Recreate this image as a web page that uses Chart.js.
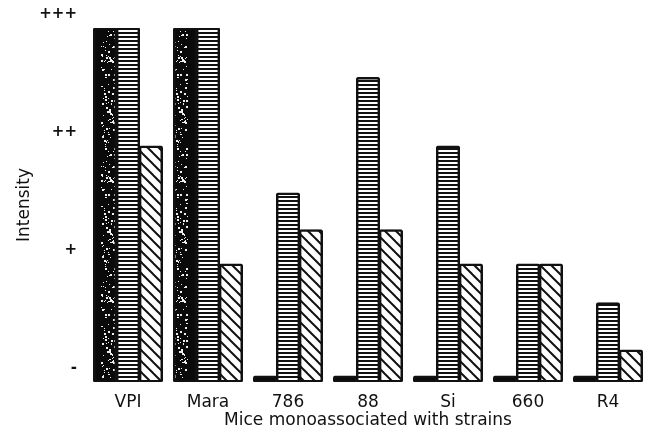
<!DOCTYPE html>
<html lang="en">
<head>
    <meta charset="UTF-8">
    <title>Intensity by strain</title>
    <script src="https://cdn.jsdelivr.net/npm/chart.js"></script>
    <style>
        html, body { margin: 0; padding: 0; background: #fff; }
        #wrap { width: 648px; height: 431px; position: relative; }
    </style>
</head>
<body>
    <div id="wrap"><canvas id="chart"></canvas></div>

    <script>
        const categories = ['VPI', 'Mara', '786', '88', 'Si', '660', 'R4'];
        const darkValues = [3, 3, 0, 0, 0, 0, 0];
        const stripedValues = [3, 3, 1.6, 2.58, 2, 1, 0.67];
        const hatchedValues = [2, 1, 1.29, 1.29, 1, 1, 0.27];
        const tickLabels = ['-', '+', '++', '+++'];

        const font = '"DejaVu Sans", sans-serif';

        // seeded generator so the speckle texture is the same on every run
        let seed = 11;
        function rnd() {
            seed = (seed * 16807) % 2147483647;
            return seed / 2147483647;
        }

        function speckle() {
            const c = document.createElement('canvas');
            c.width = 24; c.height = 120;
            const g = c.getContext('2d');
            g.fillStyle = '#0a0a0a';
            g.fillRect(0, 0, c.width, c.height);
            g.fillStyle = '#eeeeee';
            for (let i = 0; i < 120; i++) {
                const x = 5 + rnd() * 14;
                const y = rnd() * 120;
                const s = rnd() < 0.4 ? 2 : 1;
                g.fillRect(Math.round(x), Math.round(y), s, s);
            }
            return g.createPattern(c, 'repeat');
        }

        function stripes() {
            const c = document.createElement('canvas');
            c.width = 8; c.height = 4;
            const g = c.getContext('2d');
            g.fillStyle = '#fff';
            g.fillRect(0, 0, 8, 4);
            g.fillStyle = '#111';
            g.fillRect(0, 0, 8, 2);
            return g.createPattern(c, 'repeat');
        }

        function hatch() {
            const s = 11;
            const c = document.createElement('canvas');
            c.width = s; c.height = s;
            const g = c.getContext('2d');
            g.fillStyle = '#fff';
            g.fillRect(0, 0, s, s);
            g.strokeStyle = '#111';
            g.lineWidth = 2;
            for (let k = -1; k <= 1; k++) {
                g.beginPath();
                g.moveTo(k * s - 2, -2);
                g.lineTo(k * s + s + 2, s + 2);
                g.stroke();
            }
            return g.createPattern(c, 'repeat');
        }

        const common = {
            borderColor: '#111',
            borderWidth: 2.5,
            borderRadius: 2,
            borderSkipped: false,
            inflateAmount: 0.6,
            categoryPercentage: 0.86,
            barPercentage: 1
        };

        const ctx = document.getElementById('chart').getContext('2d');
        new Chart(ctx, {
            type: 'bar',
            data: {
                labels: categories,
                datasets: [
                    Object.assign({ label: 'dark', data: darkValues, backgroundColor: speckle(), minBarLength: 6 }, common),
                    Object.assign({ label: 'striped', data: stripedValues, backgroundColor: stripes() }, common),
                    Object.assign({ label: 'hatched', data: hatchedValues, backgroundColor: hatch() }, common)
                ]
            },
            options: {
                responsive: true,
                maintainAspectRatio: false,
                animation: false,
                layout: { padding: { top: 28, right: 0, left: 14, bottom: 0 } },
                plugins: { legend: { display: false }, tooltip: { enabled: false } },
                scales: {
                    x: {
                        grid: { display: false },
                        border: { display: false },
                        ticks: {
                            color: '#111',
                            padding: 2,
                            font: { family: font, size: 17 }
                        },
                        title: {
                            display: true,
                            text: 'Mice monoassociated with strains',
                            color: '#111',
                            padding: { top: 6, bottom: 0 },
                            font: { family: font, size: 17 }
                        },
                        afterFit: s => { s.height = 49; }
                    },
                    y: {
                        min: 0,
                        max: 3,
                        grid: { display: false },
                        border: { display: false },
                        ticks: {
                            stepSize: 1,
                            color: '#111',
                            labelOffset: -14,
                            padding: 3,
                            font: { family: font, size: 15, weight: 'bold' },
                            callback: v => tickLabels[v]
                        },
                        title: {
                            display: true,
                            text: 'Intensity',
                            color: '#111',
                            padding: 0,
                            font: { family: font, size: 17 }
                        },
                        afterFit: s => { s.width = 74; }
                    }
                }
            }
        });
    </script>
</body>
</html>
